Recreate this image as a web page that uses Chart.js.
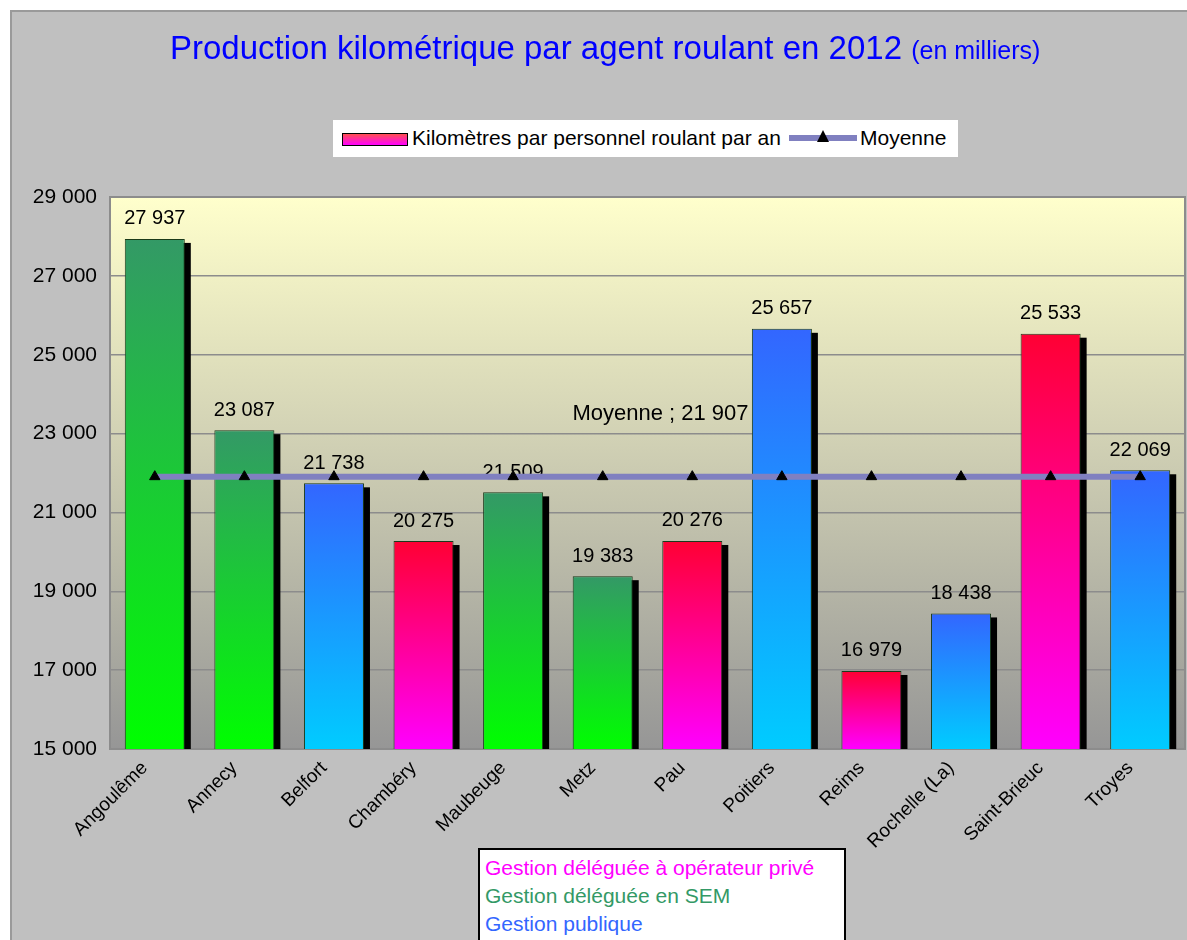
<!DOCTYPE html>
<html>
<head>
<meta charset="utf-8">
<script src="https://cdn.jsdelivr.net/npm/chart.js@4"></script>
<style>
  body { margin: 0; background: #fff; font-family: "Liberation Sans", Arial, sans-serif; }
  #frame { position: absolute; left: 10px; top: 10px; width: 1177px; height: 930px; background: #c0c0c0;
           border-top: 2px solid #9a9a9a; border-left: 2px solid #9a9a9a; box-sizing: border-box; overflow: hidden; }
  #chart { position: absolute; left: -2px; top: -2px; }
  #title { position: absolute; left: 158px; top: 17px; color: #0000ff; font-size: 33px; white-space: nowrap; }
  #title small { font-size: 25px; }
  #legend { position: absolute; left: 321px; top: 108px; width: 625px; height: 37px; background: #fff;
            font-size: 21px; color: #000; }
  #legend .sw { position: absolute; left: 9px; top: 13px; width: 64px; height: 11px; border: 1px solid #000;
                background: linear-gradient(#ff5050, #ff00ff); }
  #legend .t1 { position: absolute; left: 79px; top: 6px; }
  #legend .ln { position: absolute; left: 456px; top: 15px; width: 68px; height: 6px; background: #8080c0; }
  #legend .tri { position: absolute; left: 484px; top: 10px; width: 0; height: 0; border-left: 6px solid transparent;
                 border-right: 6px solid transparent; border-bottom: 12px solid #000; }
  #legend .t2 { position: absolute; left: 527px; top: 6px; }
  #notes { position: absolute; left: 466px; top: 836px; width: 368px; height: 120px; background: #fff; box-sizing: border-box;
           border: 2px solid #000; font-size: 21px; line-height: 28px; padding: 4px 0 0 5px; white-space: nowrap; }
</style>
</head>
<body>
<div id="frame">
  <canvas id="chart" width="1182" height="930"></canvas>
  <div id="title">Production kilométrique par agent roulant en 2012 <small>(en milliers)</small></div>
  <div id="legend">
    <div class="sw"></div><div class="t1">Kilomètres par personnel roulant par an</div>
    <div class="ln"></div><div class="tri"></div><div class="t2">Moyenne</div>
  </div>
  <div id="notes">
    <div style="color:#ff00ff">Gestion déléguée à opérateur privé</div>
    <div style="color:#339966">Gestion déléguée en SEM</div>
    <div style="color:#3366ff">Gestion publique</div>
  </div>
</div>
<script>
// Data
const cities = ['Angoulême', 'Annecy', 'Belfort', 'Chambéry', 'Maubeuge', 'Metz', 'Pau', 'Poitiers', 'Reims', 'Rochelle (La)', 'Saint-Brieuc', 'Troyes'];
const kmPerAgent = [27937, 23087, 21738, 20275, 21509, 19383, 20276, 25657, 16979, 18438, 25533, 22069];
const management = ['sem', 'sem', 'public', 'prive', 'sem', 'sem', 'prive', 'public', 'prive', 'public', 'prive', 'public'];
const average = 21907;
const averageLine = cities.map(() => average);
const yTicks = [15000, 17000, 19000, 21000, 23000, 25000, 27000, 29000];

// Gradient colours per management type (top, bottom)
const groupColors = {
  prive: ['#ff0033', '#ff00ff'],
  sem: ['#339966', '#00ff00'],
  public: ['#3366ff', '#00ccff']
};

function fmt(v) {
  return String(v).replace(/\B(?=(\d{3})+(?!\d))/g, ' ');
}

function barGradient(ctx) {
  const chart = ctx.chart;
  const y = chart.scales.y;
  if (!chart.chartArea || !y || ctx.dataIndex === undefined) return '#339966';
  const cols = groupColors[management[ctx.dataIndex]];
  const top = y.getPixelForValue(kmPerAgent[ctx.dataIndex]);
  const bottom = y.getPixelForValue(yTicks[0]);
  const g = chart.ctx.createLinearGradient(0, top, 0, bottom);
  g.addColorStop(0, cols[0]);
  g.addColorStop(1, cols[1]);
  return g;
}

// Plot background, bar shadows, value labels
const decorations = {
  id: 'decorations',
  beforeDatasetsDraw(chart) {
    const { ctx, chartArea: a } = chart;
    ctx.save();
    ctx.beginPath();
    ctx.rect(a.left, a.top, a.right - a.left, a.bottom - a.top);
    ctx.clip();
    chart.getDatasetMeta(0).data.forEach(bar => {
      const w = bar.width;
      ctx.fillStyle = '#000';
      ctx.fillRect(bar.x - w / 2 + 6, bar.y + 4, w, bar.base - bar.y);
    });
    ctx.restore();
  },
  afterDatasetDraw(chart, args) {
    if (args.index !== 0) return;
    const ctx = chart.ctx;
    ctx.save();
    ctx.fillStyle = '#000';
    ctx.font = '20px "Liberation Sans", Arial, sans-serif';
    ctx.textAlign = 'center';
    ctx.textBaseline = 'bottom';
    chart.getDatasetMeta(0).data.forEach((bar, i) => {
      ctx.fillText(fmt(kmPerAgent[i]), bar.x, bar.y - 10);
    });
    ctx.restore();
  },
  afterDatasetsDraw(chart) {
    const { ctx, scales } = chart;
    ctx.save();
    ctx.fillStyle = '#000';
    ctx.font = '22px "Liberation Sans", Arial, sans-serif';
    ctx.textAlign = 'center';
    ctx.textBaseline = 'bottom';
    const x = (scales.x.getPixelForValue(5) + scales.x.getPixelForValue(6)) / 2 + 13;
    ctx.fillText('Moyenne ; ' + fmt(average), x, scales.y.getPixelForValue(average) - 52);
    ctx.restore();
  },
  beforeDraw(chart) {
    const { ctx, chartArea: a } = chart;
    const g = ctx.createLinearGradient(0, a.top, 0, a.bottom);
    g.addColorStop(0, '#ffffcc');
    g.addColorStop(1, '#969696');
    ctx.save();
    ctx.fillStyle = g;
    ctx.fillRect(a.left, a.top, a.right - a.left, a.bottom - a.top);
    ctx.strokeStyle = '#8c8c8c';
    ctx.lineWidth = 2;
    ctx.strokeRect(a.left, a.top, a.right - a.left, a.bottom - a.top);
    ctx.restore();
  }
};

new Chart(document.getElementById('chart'), {
  data: {
    labels: cities,
    datasets: [
      {
        type: 'bar',
        label: 'Kilomètres par personnel roulant par an',
        data: kmPerAgent,
        backgroundColor: barGradient,
        borderColor: '#1a3a1a',
        borderWidth: 1,
        categoryPercentage: 1,
        barPercentage: 0.67,
        order: 1
      },
      {
        type: 'line',
        label: 'Moyenne',
        data: averageLine,
        borderColor: '#8080c0',
        borderWidth: 6,
        pointStyle: 'triangle',
        pointRadius: 6,
        pointBackgroundColor: '#000',
        pointBorderColor: '#000',
        pointBorderWidth: 1,
        order: 0
      }
    ]
  },
  options: {
    responsive: false,
    animation: false,
    devicePixelRatio: 1,
    layout: { padding: { top: 187, right: 0, left: 0, bottom: 0 } },
    plugins: { legend: { display: false }, title: { display: false }, tooltip: { enabled: false } },
    scales: {
      x: {
        offset: true,
        grid: { display: false },
        border: { display: false },
        ticks: {
          color: '#000',
          font: { size: 19, family: '"Liberation Sans", Arial, sans-serif' },
          minRotation: 45,
          maxRotation: 45,
          autoSkip: false,
          padding: 0,
          labelOffset: -10
        },
        afterFit(scale) { scale.height = 191; }
      },
      y: {
        min: yTicks[0],
        max: yTicks[yTicks.length - 1],
        afterBuildTicks(scale) { scale.ticks = yTicks.map(v => ({ value: v })); },
        grid: { color: '#8c8c8c', lineWidth: 1.5, drawTicks: false },
        border: { display: false },
        ticks: {
          color: '#000',
          font: { size: 21, family: '"Liberation Sans", Arial, sans-serif' },
          padding: 13,
          callback: v => fmt(v)
        },
        afterFit(scale) { scale.width = 100; }
      }
    }
  },
  plugins: [decorations]
});
</script>
</body>
</html>
